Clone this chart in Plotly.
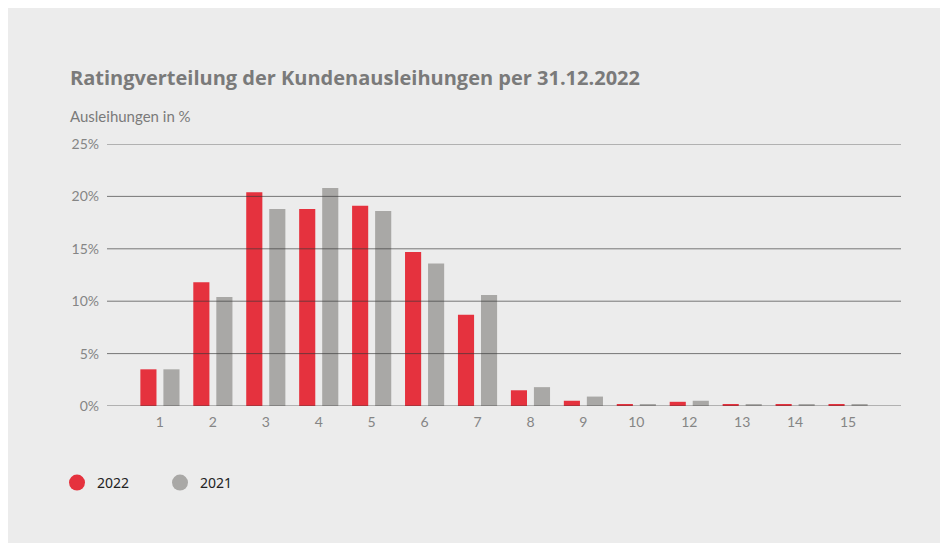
import plotly.graph_objects as go

categories = ["1", "2", "3", "4", "5", "6", "7", "8", "9", "10", "12", "13", "14", "15"]
values_2022 = [3.5, 11.8, 20.4, 18.8, 19.1, 14.7, 8.7, 1.5, 0.5, 0.1, 0.4, 0.1, 0.1, 0.1]
values_2021 = [3.5, 10.4, 18.8, 20.8, 18.6, 13.6, 10.6, 1.8, 0.9, 0.1, 0.5, 0.1, 0.1, 0.1]
y_ticks = [0, 5, 10, 15, 20, 25]
y_tick_labels = ["0%", "5%", "10%", "15%", "20%", "25%"]
series_names = ["2022", "2021"]

RED = "#e5323e"
GRAY = "#a9a8a6"
BG = "#ececec"
FONT = "Lato"

W, H = 940, 535
L, R, T, B = 99, 47, 136, 137

fig = go.Figure()
for name, vals, col in [(series_names[0], values_2022, RED), (series_names[1], values_2021, GRAY)]:
    fig.add_trace(go.Bar(x=categories, y=vals, name=name, marker=dict(color=col, line=dict(width=0)),
                         showlegend=False, hoverinfo="x+y"))
    fig.add_trace(go.Scatter(x=[None], y=[None], mode="markers", name=name,
                             marker=dict(symbol="circle", size=17, color=col), showlegend=True))

# gridlines above bars
for v in y_ticks:
    fig.add_shape(type="line", xref="paper", yref="y", x0=0, x1=1, y0=v, y1=v,
                  line=dict(color="rgba(55,55,55,0.65)", width=1), layer="above")

fig.update_layout(
    width=W, height=H,
    margin=dict(l=L, r=R, t=T, b=B),
    paper_bgcolor=BG, plot_bgcolor=BG,
    barmode="group", bargap=0.13, bargroupgap=0.30,
    title=dict(text="<b>Ratingverteilung der Kundenausleihungen per 31.12.2022</b>",
               xref="container", yref="container", x=62 / W, xanchor="left",
               y=1 - 70 / H, yanchor="middle",
               font=dict(family="Open Sans", size=20, color="#7a7a7a")),
    xaxis=dict(type="category", range=[-1, 14], showgrid=False, zeroline=False, showline=False,
               ticks="", tickfont=dict(family=FONT, size=14, color="#858585"), ticklabelstandoff=6),
    yaxis=dict(range=[0, 25], tickvals=y_ticks, ticktext=y_tick_labels, showgrid=False,
               zeroline=False, showline=False, ticks="", ticklabelstandoff=7,
               tickfont=dict(family=FONT, size=14, color="#858585")),
    legend=dict(orientation="h", x=(49 - L) / (W - L - R), xanchor="left",
                y=(H - B - 475) / (H - T - B), yanchor="middle",
                font=dict(family="Noto Sans", size=14, color="#222222"),
                bgcolor="rgba(0,0,0,0)", itemwidth=30, entrywidth=58, entrywidthmode="pixels"),
    annotations=[dict(text="Ausleihungen in %", xref="paper", yref="paper",
                      x=(60 - L) / (W - L - R), xanchor="left",
                      y=(H - B - 108) / (H - T - B), yanchor="middle", showarrow=False,
                      font=dict(family=FONT, size=15, color="#7a7a7a"))],
)

fig.write_html("out.html")
